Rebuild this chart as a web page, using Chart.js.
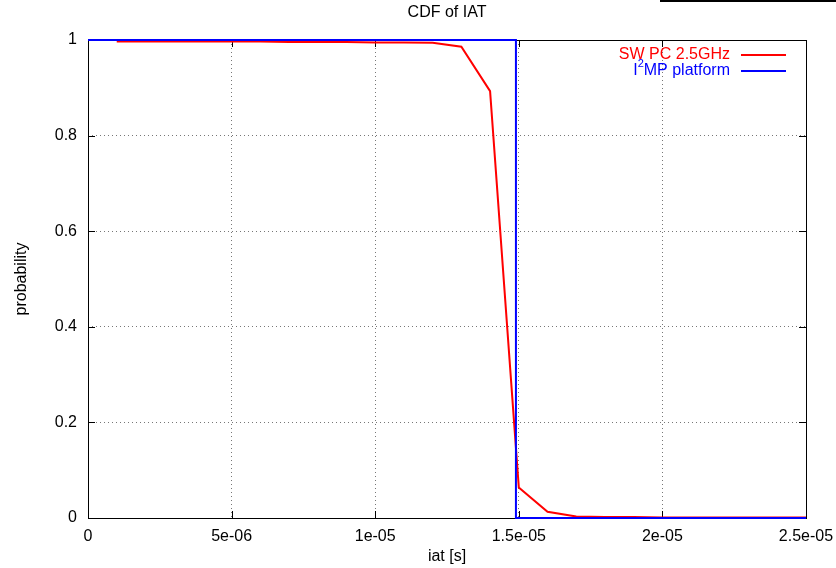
<!DOCTYPE html>
<html>
<head>
<meta charset="utf-8">
<script src="https://cdn.jsdelivr.net/npm/chart.js@4"></script>
<style>
  html, body { margin: 0; padding: 0; background: #fff; }
  #wrap { width: 836px; height: 568px; }
</style>
</head>
<body>
<div id="wrap"><canvas id="cdfChart" width="836" height="568"></canvas></div>
<script>
// SW PC 2.5GHz, sampled every 1e-6 s
const swX = [1e-6, 2e-6, 3e-6, 4e-6, 5e-6, 6e-6, 7e-6, 8e-6, 9e-6, 1e-5, 1.1e-5, 1.2e-5, 1.3e-5,
  1.4e-5, 1.5e-5, 1.6e-5, 1.7e-5, 1.8e-5, 1.9e-5, 2e-5, 2.1e-5, 2.2e-5, 2.3e-5, 2.4e-5, 2.5e-5];
const swY = [0.997, 0.997, 0.997, 0.997, 0.997, 0.997, 0.996, 0.996, 0.996, 0.995, 0.995, 0.994, 0.986,
  0.893, 0.064, 0.013, 0.003, 0.002, 0.002, 0.001, 0.001, 0.001, 0.001, 0.001, 0.001];

// I2MP platform (step)
const i2mpX = [0, 1.49e-5, 1.49e-5, 2.5e-5];
const i2mpY = [1, 1, 0, 0];

const xTicks = [0, 5e-6, 1e-5, 1.5e-5, 2e-5, 2.5e-5];
const xTickLabels = ['0', '5e-06', '1e-05', '1.5e-05', '2e-05', '2.5e-05'];
const yTicks = [0, 0.2, 0.4, 0.6, 0.8, 1];
const yTickLabels = ['0', '0.2', '0.4', '0.6', '0.8', '1'];

const FONT = '"Liberation Sans", Arial, sans-serif';

const toPoints = (xs, ys) => xs.map((x, i) => ({ x: x, y: ys[i] }));

const frame = {
  id: 'frame',
  beforeDatasetsDraw(chart) {
    const ctx = chart.ctx;
    const a = chart.chartArea;
    const xs = chart.scales.x, ys = chart.scales.y;
    ctx.save();
    ctx.strokeStyle = '#000';
    ctx.lineWidth = 1;
    // inward tick marks, gnuplot style
    ctx.beginPath();
    xTicks.forEach(t => {
      const px = Math.round(xs.getPixelForValue(t)) + 0.5;
      ctx.moveTo(px, a.bottom); ctx.lineTo(px, a.bottom - 7);
      ctx.moveTo(px, a.top); ctx.lineTo(px, a.top + 7);
    });
    yTicks.forEach(t => {
      const py = Math.round(ys.getPixelForValue(t)) + 0.5;
      ctx.moveTo(a.left, py); ctx.lineTo(a.left + 7, py);
      ctx.moveTo(a.right, py); ctx.lineTo(a.right - 7, py);
    });
    ctx.stroke();
    ctx.strokeRect(Math.round(a.left) + 0.5, Math.round(a.top) + 0.5,
      Math.round(a.right - a.left), Math.round(a.bottom - a.top));
    ctx.restore();
  },
  afterDraw(chart) {
    const ctx = chart.ctx;
    const a = chart.chartArea;
    ctx.save();
    ctx.fillStyle = '#000';
    ctx.font = '16px ' + FONT;
    ctx.textAlign = 'center';
    ctx.textBaseline = 'middle';
    ctx.fillText('CDF of IAT', (a.left + a.right) / 2, 13);
    ctx.fillText('iat [s]', (a.left + a.right) / 2, 557);
    ctx.save();
    ctx.translate(22, (a.top + a.bottom) / 2);
    ctx.rotate(-Math.PI / 2);
    ctx.fillText('probability', 0, 0);
    ctx.restore();

    // legend
    ctx.textAlign = 'right';
    ctx.fillStyle = '#ff0000';
    ctx.fillText('SW PC 2.5GHz', 730, 55);
    ctx.strokeStyle = '#ff0000';
    ctx.lineWidth = 2;
    ctx.beginPath(); ctx.moveTo(741, 55); ctx.lineTo(786, 55); ctx.stroke();

    ctx.fillStyle = '#0000ff';
    const rest = 'MP platform';
    const wRest = ctx.measureText(rest).width;
    ctx.fillText(rest, 730, 71);
    ctx.font = '11px ' + FONT;
    const wSup = ctx.measureText('2').width;
    ctx.fillText('2', 730 - wRest, 64);
    ctx.font = '16px ' + FONT;
    ctx.fillText('I', 730 - wRest - wSup, 71);
    ctx.strokeStyle = '#0000ff';
    ctx.beginPath(); ctx.moveTo(741, 71); ctx.lineTo(786, 71); ctx.stroke();

    // stray line at the top right of the image
    ctx.strokeStyle = '#000';
    ctx.lineWidth = 2;
    ctx.beginPath(); ctx.moveTo(660, 1); ctx.lineTo(836, 1); ctx.stroke();
    ctx.restore();
  }
};

new Chart(document.getElementById('cdfChart'), {
  type: 'scatter',
  data: {
    datasets: [{
      label: 'SW PC 2.5GHz',
      data: toPoints(swX, swY),
      showLine: true,
      borderColor: '#ff0000',
      borderWidth: 2,
      pointRadius: 0,
      tension: 0,
      clip: false,
      order: 1
    }, {
      label: 'I\u00b2MP platform',
      data: toPoints(i2mpX, i2mpY),
      showLine: true,
      borderColor: '#0000ff',
      borderWidth: 2,
      pointRadius: 0,
      tension: 0,
      clip: false,
      order: 0
    }]
  },
  options: {
    responsive: false,
    animation: false,
    layout: { padding: { top: 40, right: 30, bottom: 0, left: 0 } },
    plugins: {
      legend: { display: false },
      title: { display: false },
      tooltip: { enabled: false }
    },
    scales: {
      x: {
        type: 'linear',
        min: 0,
        max: 2.5e-5,
        afterFit: s => { s.height = 50; s.paddingLeft = 0; s.paddingRight = 0; },
        afterBuildTicks: s => { s.ticks = xTicks.map(v => ({ value: v })); },
        ticks: {
          color: '#000',
          font: { family: FONT, size: 16 },
          padding: 9,
          maxRotation: 0,
          autoSkip: false,
          callback: (v, i) => xTickLabels[i]
        },
        grid: { color: '#777', drawTicks: false },
        border: { display: false, dash: [1, 3] }
      },
      y: {
        type: 'linear',
        min: 0,
        max: 1,
        afterFit: s => { s.width = 88; s.paddingTop = 0; s.paddingBottom = 0; },
        afterBuildTicks: s => { s.ticks = yTicks.map(v => ({ value: v })); },
        ticks: {
          color: '#000',
          font: { family: FONT, size: 16 },
          padding: 11,
          callback: (v, i) => yTickLabels[i]
        },
        grid: { color: '#777', drawTicks: false },
        border: { display: false, dash: [1, 3] }
      }
    }
  },
  plugins: [frame]
});
</script>
</body>
</html>
